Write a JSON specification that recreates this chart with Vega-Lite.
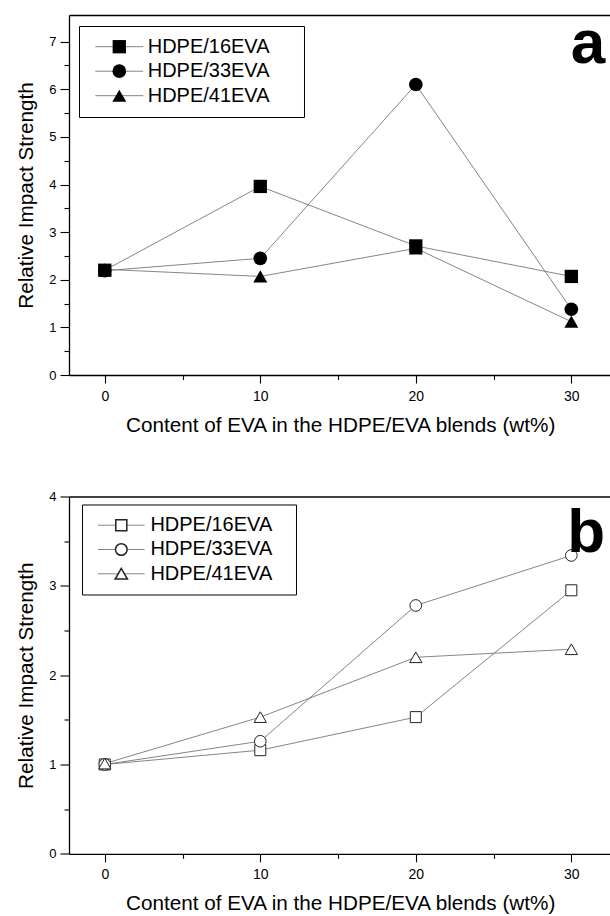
{
  "$schema": "https://vega.github.io/schema/vega-lite/v6.json",
  "padding": {"left": 15, "top": 13, "right": 0, "bottom": 0},
  "spacing": 55.5,
  "config": {
    "view": {"stroke": null},
    "font": "Liberation Sans",
    "axis": {"grid": false, "domainColor": "#000", "tickColor": "#000", "labelColor": "#000", "titleColor": "#000", "titleFontWeight": "normal", "domainWidth": 1.3, "tickWidth": 1.1, "labelFont": "Liberation Sans", "titleFont": "Liberation Sans"}
  },
  "resolve": {
    "scale": {"shape": "independent", "size": "independent", "stroke": "independent"},
    "legend": {"shape": "independent", "size": "independent", "stroke": "independent"}
  },
  "vconcat": [
    {
      "width": 542.3,
      "height": 360,
      "resolve": {"axis": {"x": "independent", "y": "independent"}},
      "layer": [
        {
          "data": {"values": [
            {"x": 0, "y": 2.2, "series": "HDPE/16EVA"},
            {"x": 10, "y": 3.96, "series": "HDPE/16EVA"},
            {"x": 20, "y": 2.71, "series": "HDPE/16EVA"},
            {"x": 30, "y": 2.07, "series": "HDPE/16EVA"},
            {"x": 0, "y": 2.19, "series": "HDPE/33EVA"},
            {"x": 10, "y": 2.45, "series": "HDPE/33EVA"},
            {"x": 20, "y": 6.1, "series": "HDPE/33EVA"},
            {"x": 30, "y": 1.38, "series": "HDPE/33EVA"},
            {"x": 0, "y": 2.22, "series": "HDPE/41EVA"},
            {"x": 10, "y": 2.07, "series": "HDPE/41EVA"},
            {"x": 20, "y": 2.66, "series": "HDPE/41EVA"},
            {"x": 30, "y": 1.12, "series": "HDPE/41EVA"}
          ]},
          "resolve": {"axis": {"x": "independent", "y": "independent"}},
          "layer": [
            {
              "mark": {"type": "line", "strokeWidth": 0.9},
              "encoding": {
                "x": {"field": "x", "type": "quantitative", "scale": {"domain": [-2.3, 32.57], "nice": false, "zero": false},
                  "axis": {"orient": "bottom", "values": [0, 10, 20, 30], "tickSize": 8, "labelPadding": 6, "labelFontSize": 14, "title": "Content of EVA in the HDPE/EVA blends (wt%)", "titleFontSize": 20.7, "titlePadding": 12}},
                "y": {"field": "y", "type": "quantitative", "scale": {"domain": [0, 7.56], "nice": false, "zero": false},
                  "axis": {"orient": "left", "values": [0, 1, 2, 3, 4, 5, 6, 7], "tickSize": 9, "labelPadding": 4, "labelFontSize": 13, "title": "Relative Impact Strength", "titleFontSize": 20.7, "titlePadding": 12}},
                "stroke": {"field": "series", "type": "nominal", "scale": {"range": ["#777", "#777", "#777"]},
                  "legend": {"orient": "none", "legendX": 10, "legendY": 11, "title": null, "padding": 10.7, "rowPadding": 4.5, "symbolType": "M-4,0H4", "symbolSize": 144, "symbolStrokeWidth": 0.9, "symbolOffset": 19.6, "labelFontSize": 20, "labelFont": "Liberation Sans", "labelExpr": "'\u00a0'", "labelOffset": 163.4, "strokeColor": "#000"}}
              }
            },
            {
              "mark": {"type": "point", "filled": true, "color": "#000", "opacity": 1, "strokeWidth": 0},
              "encoding": {
                "x": {"field": "x", "type": "quantitative", "axis": {"orient": "bottom", "values": [5, 15, 25], "tickSize": 4.5, "labels": false, "domain": false, "title": null}},
                "y": {"field": "y", "type": "quantitative", "axis": {"orient": "left", "values": [0.5, 1.5, 2.5, 3.5, 4.5, 5.5, 6.5], "tickSize": 5, "labels": false, "domain": false, "title": null}},
                "shape": {"field": "series", "type": "nominal", "scale": {"domain": ["HDPE/16EVA", "HDPE/33EVA", "HDPE/41EVA"], "range": ["square", "circle", "triangle-up"]},
                  "legend": {"orient": "none", "legendX": 10, "legendY": 11, "title": null, "padding": 10.7, "rowPadding": 4.5, "symbolOffset": 19.6, "labelFontSize": 20, "labelFont": "Liberation Sans", "labelColor": "#000", "labelOffset": 18.4, "symbolOpacity": 1}},
                "size": {"field": "series", "type": "nominal", "scale": {"domain": ["HDPE/16EVA", "HDPE/33EVA", "HDPE/41EVA"], "range": [177, 196, 289]},
                  "legend": {"orient": "none", "legendX": 10, "legendY": 11, "title": null, "padding": 10.7, "rowPadding": 4.5, "symbolOffset": 19.6, "labelFontSize": 20, "labelFont": "Liberation Sans", "labelColor": "#000", "labelOffset": 18.4, "symbolOpacity": 1}}
              }
            }
          ]
        },
        {
          "data": {"values": [{"x": 32.18, "y": 6.55, "label": "a"}]},
          "mark": {"type": "text", "align": "right", "baseline": "alphabetic", "font": "Liberation Sans", "fontWeight": "bold", "fontSize": 62, "color": "#000"},
          "encoding": {
            "x": {"field": "x", "type": "quantitative", "axis": {"orient": "top", "ticks": false, "labels": false, "title": null, "domain": true}},
            "y": {"field": "y", "type": "quantitative", "axis": null},
            "text": {"field": "label"}
          }
        }
      ]
    },
    {
      "width": 542.3,
      "height": 357.3,
      "resolve": {"axis": {"x": "independent", "y": "independent"}},
      "layer": [
        {
          "data": {"values": [
            {"x": 0, "y": 1.0, "series": "HDPE/16EVA"},
            {"x": 10, "y": 1.16, "series": "HDPE/16EVA"},
            {"x": 20, "y": 1.53, "series": "HDPE/16EVA"},
            {"x": 30, "y": 2.95, "series": "HDPE/16EVA"},
            {"x": 0, "y": 1.0, "series": "HDPE/33EVA"},
            {"x": 10, "y": 1.26, "series": "HDPE/33EVA"},
            {"x": 20, "y": 2.78, "series": "HDPE/33EVA"},
            {"x": 30, "y": 3.34, "series": "HDPE/33EVA"},
            {"x": 0, "y": 1.01, "series": "HDPE/41EVA"},
            {"x": 10, "y": 1.53, "series": "HDPE/41EVA"},
            {"x": 20, "y": 2.2, "series": "HDPE/41EVA"},
            {"x": 30, "y": 2.29, "series": "HDPE/41EVA"}
          ]},
          "resolve": {"axis": {"x": "independent", "y": "independent"}},
          "layer": [
            {
              "mark": {"type": "line", "strokeWidth": 0.9},
              "encoding": {
                "x": {"field": "x", "type": "quantitative", "scale": {"domain": [-2.3, 32.57], "nice": false, "zero": false},
                  "axis": {"orient": "bottom", "values": [0, 10, 20, 30], "tickSize": 8, "labelPadding": 6, "labelFontSize": 14, "title": "Content of EVA in the HDPE/EVA blends (wt%)", "titleFontSize": 20.7, "titlePadding": 12}},
                "y": {"field": "y", "type": "quantitative", "scale": {"domain": [0, 4], "nice": false, "zero": false},
                  "axis": {"orient": "left", "values": [0, 1, 2, 3, 4], "tickSize": 9, "labelPadding": 4, "labelFontSize": 13, "title": "Relative Impact Strength", "titleFontSize": 20.7, "titlePadding": 12}},
                "stroke": {"field": "series", "type": "nominal", "scale": {"range": ["#777", "#777", "#777"]},
                  "legend": {"orient": "none", "legendX": 13, "legendY": 8, "title": null, "padding": 10.7, "rowPadding": 4.3, "symbolType": "M-4,0H4", "symbolSize": 136, "symbolStrokeWidth": 0.9, "symbolOffset": 18.6, "labelFontSize": 20, "labelFont": "Liberation Sans", "labelExpr": "'\u00a0'", "labelOffset": 153.7, "strokeColor": "#000"}}
              }
            },
            {
              "mark": {"type": "point", "fill": "#fff", "stroke": "#222", "opacity": 1, "fillOpacity": 1, "strokeWidth": 1},
              "encoding": {
                "x": {"field": "x", "type": "quantitative", "axis": {"orient": "bottom", "values": [5, 15, 25], "tickSize": 4.5, "labels": false, "domain": false, "title": null}},
                "y": {"field": "y", "type": "quantitative", "axis": {"orient": "left", "values": [0.5, 1.5, 2.5, 3.5], "tickSize": 5, "labels": false, "domain": false, "title": null}},
                "shape": {"field": "series", "type": "nominal", "scale": {"domain": ["HDPE/16EVA", "HDPE/33EVA", "HDPE/41EVA"], "range": ["square", "circle", "triangle-up"]},
                  "legend": {"orient": "none", "legendX": 13, "legendY": 8, "title": null, "padding": 10.7, "rowPadding": 4.3, "symbolOffset": 18.6, "labelFontSize": 20, "labelFont": "Liberation Sans", "labelColor": "#000", "labelOffset": 19.1, "symbolOpacity": 1}},
                "size": {"field": "series", "type": "nominal", "scale": {"domain": ["HDPE/16EVA", "HDPE/33EVA", "HDPE/41EVA"], "range": [121, 151, 246]},
                  "legend": {"orient": "none", "legendX": 13, "legendY": 8, "title": null, "padding": 10.7, "rowPadding": 4.3, "symbolOffset": 18.6, "labelFontSize": 20, "labelFont": "Liberation Sans", "labelColor": "#000", "labelOffset": 19.1, "symbolOpacity": 1}}
              }
            }
          ]
        },
        {
          "data": {"values": [{"x": 32.18, "y": 3.374, "label": "b"}]},
          "mark": {"type": "text", "align": "right", "baseline": "alphabetic", "font": "Liberation Sans", "fontWeight": "bold", "fontSize": 62, "color": "#000"},
          "encoding": {
            "x": {"field": "x", "type": "quantitative", "axis": {"orient": "top", "ticks": false, "labels": false, "title": null, "domain": true}},
            "y": {"field": "y", "type": "quantitative", "axis": null},
            "text": {"field": "label"}
          }
        }
      ]
    }
  ]
}
